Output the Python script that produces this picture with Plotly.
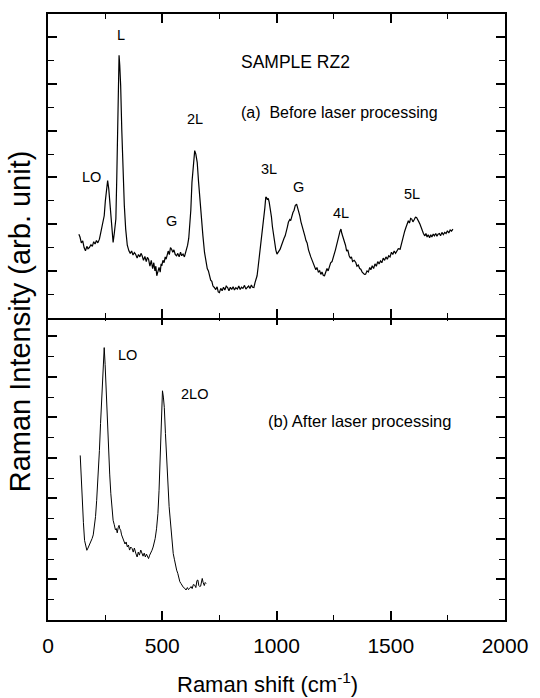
import plotly.graph_objects as go

# ---- (a) Before laser processing ----
shift_a = [135, 140, 146, 152, 158, 164, 170, 175, 181, 188, 194, 200, 206, 212, 218, 225, 230, 236, 241, 246,
           251, 256, 261, 266, 271, 276, 281, 285, 290, 294, 297, 301, 305, 308, 311, 314, 318, 323, 328, 334,
           340, 347, 354, 360, 366, 372, 378, 383, 390, 396, 402, 407, 412, 418, 424, 430, 435, 440, 446, 452,
           458, 463, 468, 472, 476, 481, 486, 491, 495, 498, 503, 508, 513, 517, 520, 526, 531, 536, 541, 546,
           551, 557, 563, 568, 574, 580, 585, 591, 597, 602, 606, 611, 616, 620, 625, 630, 636, 642, 647, 653,
           659, 665, 671, 678, 685, 691, 697, 702, 707, 712, 717, 722, 728, 734, 740, 745, 750, 756, 762, 768,
           774, 780, 786, 792, 798, 804, 810, 816, 822, 829, 835, 841, 847, 853, 860, 866, 872, 878, 884, 890,
           895, 901, 906, 911, 915, 920, 926, 931, 937, 943, 949, 953, 956, 960, 964, 968, 973, 978, 982, 987,
           992, 997, 1002, 1008, 1012, 1016, 1022, 1028, 1033, 1038, 1043, 1048, 1052, 1058, 1062, 1067, 1072, 1077, 1082, 1088,
           1093, 1097, 1102, 1107, 1112, 1118, 1124, 1129, 1134, 1140, 1145, 1150, 1156, 1161, 1167, 1172, 1177, 1183, 1189, 1194,
           1199, 1205, 1210, 1215, 1221, 1226, 1232, 1237, 1243, 1248, 1253, 1258, 1263, 1268, 1273, 1278, 1282, 1286, 1291, 1297,
           1302, 1307, 1312, 1318, 1323, 1328, 1333, 1340, 1347, 1352, 1358, 1364, 1369, 1375, 1380, 1385, 1390, 1396, 1402, 1408,
           1413, 1419, 1425, 1431, 1437, 1443, 1449, 1455, 1461, 1467, 1473, 1479, 1485, 1491, 1497, 1503, 1509, 1515, 1521, 1527,
           1533, 1541, 1547, 1552, 1556, 1561, 1566, 1572, 1577, 1582, 1587, 1592, 1597, 1603, 1608, 1613, 1618, 1623, 1628, 1633,
           1638, 1643, 1649, 1654, 1659, 1664, 1670, 1675, 1680, 1686, 1691, 1697, 1702, 1707, 1713, 1718, 1724, 1730, 1736, 1742,
           1748, 1754, 1760, 1766, 1772]
intensity_a = [3.57, 3.45, 3.2, 3.29, 3.0, 2.86, 3.05, 2.95, 3.0, 3.12, 3.05, 3.25, 3.15, 3.3, 3.2, 3.36, 3.6, 3.93, 4.1, 4.36,
               5.0, 5.5, 5.87, 5.5, 4.94, 4.2, 3.5, 3.22, 3.6, 4.0, 4.22, 6.0, 8.5, 10.5, 11.23, 10.8, 9.94, 8.0, 6.37, 4.8,
               3.79, 3.1, 2.86, 2.75, 2.85, 2.68, 2.78, 2.72, 2.55, 2.7, 2.6, 2.75, 2.65, 2.45, 2.62, 2.4, 2.58, 2.5, 2.2, 2.45,
               2.1, 2.35, 2.0, 2.2, 1.79, 2.05, 2.15, 1.95, 2.3, 2.22, 2.45, 2.35, 2.6, 2.5, 2.65, 2.85, 2.7, 3.0, 2.93, 2.8,
               2.9, 2.7, 2.65, 2.75, 2.6, 2.8, 2.65, 2.72, 2.6, 2.75, 2.93, 3.1, 3.4, 3.79, 4.6, 5.79, 6.7, 7.15, 7.0, 6.65,
               5.8, 5.0, 4.36, 3.5, 2.79, 2.4, 2.1, 2.0, 1.79, 1.6, 1.55, 1.35, 1.29, 1.2, 1.32, 1.1, 1.07, 1.25, 1.15, 1.3,
               1.18, 1.35, 1.29, 1.15, 1.3, 1.2, 1.32, 1.18, 1.28, 1.22, 1.35, 1.2, 1.3, 1.25, 1.38, 1.22, 1.29, 1.35, 1.25, 1.4,
               1.3, 1.29, 1.5, 1.65, 1.79, 2.2, 2.7, 3.1, 3.5, 4.1, 4.7, 5.15, 5.15, 5.05, 5.1, 4.94, 4.65, 4.3, 3.9, 3.5,
               3.2, 2.9, 2.72, 2.8, 2.9, 2.93, 3.1, 3.3, 3.4, 3.5, 3.8, 3.9, 4.08, 4.2, 4.15, 4.36, 4.5, 4.6, 4.8, 4.86,
               4.7, 4.55, 4.36, 4.1, 3.95, 3.7, 3.5, 3.3, 3.2, 2.9, 2.79, 2.6, 2.45, 2.3, 2.22, 2.05, 2.15, 1.95, 2.0, 1.85,
               1.95, 1.8, 1.79, 1.95, 2.1, 2.0, 2.22, 2.35, 2.4, 2.55, 2.65, 2.9, 3.1, 3.36, 3.5, 3.7, 3.79, 3.6, 3.45, 3.22,
               3.1, 2.85, 2.9, 2.65, 2.55, 2.6, 2.4, 2.45, 2.36, 2.2, 2.25, 2.1, 2.07, 1.95, 1.9, 1.85, 1.86, 2.0, 1.95, 2.15,
               2.05, 2.22, 2.1, 2.3, 2.2, 2.4, 2.3, 2.43, 2.35, 2.55, 2.45, 2.6, 2.5, 2.65, 2.6, 2.8, 2.7, 2.85, 2.75, 2.86,
               2.95, 2.93, 3.2, 3.4, 3.5, 3.7, 3.85, 4.0, 4.15, 4.05, 4.25, 4.22, 4.1, 4.2, 4.3, 4.29, 4.15, 4.1, 4.0, 3.85,
               3.75, 3.6, 3.5, 3.6, 3.45, 3.55, 3.42, 3.55, 3.45, 3.58, 3.5, 3.6, 3.48, 3.57, 3.6, 3.5, 3.65, 3.55, 3.65, 3.6,
               3.72, 3.62, 3.75, 3.7, 3.79]

# ---- (b) After laser processing ----
shift_b = [141, 145, 150, 155, 160, 165, 170, 175, 181, 186, 190, 193, 198, 203, 208, 213, 219, 225, 230, 236,
           241, 246, 250, 253, 259, 265, 270, 275, 280, 285, 290, 295, 299, 303, 307, 311, 314, 318, 322, 327,
           332, 337, 342, 347, 352, 357, 362, 368, 373, 378, 384, 390, 395, 400, 406, 412, 416, 421, 426, 431,
           436, 440, 445, 450, 455, 460, 465, 469, 475, 481, 486, 491, 496, 501, 505, 509, 514, 519, 525, 530,
           534, 540, 544, 548, 553, 558, 563, 568, 572, 577, 582, 588, 593, 599, 604, 610, 615, 620, 626, 631,
           636, 642, 647, 652, 656, 660, 664, 668, 672, 675, 679, 684, 688, 692]
intensity_b = [8.12, 7.0, 5.9, 4.8, 3.93, 3.6, 3.44, 3.55, 3.69, 3.8, 3.95, 4.02, 4.2, 4.59, 5.1, 5.9, 7.0, 8.36, 9.7, 11.15,
               12.5, 13.44, 12.6, 11.64, 10.0, 8.36, 7.2, 6.23, 5.5, 4.92, 4.7, 4.45, 4.51, 4.3, 4.55, 4.67, 4.5, 4.43, 4.2, 4.05,
               3.93, 3.75, 3.85, 3.61, 3.7, 3.45, 3.6, 3.53, 3.35, 3.55, 3.3, 3.11, 3.35, 3.2, 3.45, 3.28, 3.15, 3.3, 3.11, 3.25,
               3.1, 3.03, 3.2, 3.3, 3.44, 3.6, 3.8, 4.02, 4.5, 5.25, 6.4, 7.87, 9.8, 11.31, 11.0, 10.49, 9.2, 7.87, 6.5, 5.6,
               5.08, 4.1, 3.6, 3.28, 3.0, 2.7, 2.46, 2.3, 2.1, 1.89, 1.8, 1.65, 1.6, 1.56, 1.48, 1.6, 1.5, 1.56, 1.65, 1.55,
               1.75, 1.72, 1.6, 1.95, 1.97, 1.7, 1.65, 1.67, 1.9, 2.05, 1.85, 1.7, 1.85, 1.8]

# ---- peak labels ----
labels_a = ["LO", "L", "G", "2L", "3L", "G", "4L", "5L"]
label_x_a = [189, 318, 541, 642, 966, 1095, 1282, 1592]
label_y_a = [6.0, 12.1, 4.15, 8.5, 6.37, 5.58, 4.5, 5.3]
labels_b = ["LO", "2LO"]
label_x_b = [347, 642]
label_y_b = [13.1, 11.15]

x_ticks = [0, 500, 1000, 1500, 2000]
x_ticktext = ["0", "500", "1000", "1500", "2000"]

FONT = "Liberation Sans, Arial, sans-serif"
LW = 1.6
split = 305 / 608
overlap = LW / 608

fig = go.Figure()
fig.add_trace(go.Scatter(x=shift_a, y=intensity_a, mode="lines", xaxis="x2", yaxis="y2",
                         line=dict(color="black", width=1.2), showlegend=False))
fig.add_trace(go.Scatter(x=shift_b, y=intensity_b, mode="lines", xaxis="x", yaxis="y",
                         line=dict(color="black", width=1.0), showlegend=False))

axis_common = dict(showline=True, linecolor="black", linewidth=LW, mirror="allticks",
                   ticks="inside", tickcolor="black", tickwidth=1.5, showgrid=False, zeroline=False)

fig.update_layout(
    width=540, height=698,
    margin=dict(l=48, r=30, t=12, b=78),
    paper_bgcolor="white", plot_bgcolor="white",
    font=dict(family=FONT, color="black"),
    xaxis=dict(domain=[0, 1], anchor="y", range=[0, 2000], tickvals=x_ticks, ticktext=x_ticktext,
               ticklen=9, tickfont=dict(size=21), ticklabelstandoff=6,
               minor=dict(dtick=250, ticklen=5, ticks="inside", tickcolor="black", tickwidth=1.2),
               **axis_common),
    yaxis=dict(domain=[0, split], anchor="x", range=[0, 15], dtick=2, tick0=0, ticklen=9,
               showticklabels=False,
               minor=dict(dtick=1, ticklen=6, ticks="inside", tickcolor="black", tickwidth=1.2),
               **axis_common),
    xaxis2=dict(domain=[0, 1], anchor="y2", range=[0, 2000], tickvals=x_ticks, ticklen=9,
                showticklabels=False, matches="x",
                minor=dict(dtick=250, ticklen=5, ticks="inside", tickcolor="black", tickwidth=1.2),
                **axis_common),
    yaxis2=dict(domain=[split - overlap, 1], anchor="x2", range=[0, 13], dtick=2, tick0=0, ticklen=9,
                showticklabels=False,
                minor=dict(dtick=1, ticklen=6, ticks="inside", tickcolor="black", tickwidth=1.2),
                **axis_common),
)

for t, x, y in zip(labels_a, label_x_a, label_y_a):
    fig.add_annotation(x=x, y=y, xref="x2", yref="y2", text=t, showarrow=False,
                       font=dict(size=14.5, family=FONT))
for t, x, y in zip(labels_b, label_x_b, label_y_b):
    fig.add_annotation(x=x, y=y, xref="x", yref="y", text=t, showarrow=False,
                       font=dict(size=14.5, family=FONT))

fig.add_annotation(x=1084, y=10.94, xref="x2", yref="y2", text="SAMPLE RZ2", showarrow=False,
                   font=dict(size=17.5, family=FONT))
fig.add_annotation(x=1275, y=8.8, xref="x2", yref="y2", text="(a)  Before laser processing", showarrow=False,
                   font=dict(size=16, family=FONT))
fig.add_annotation(x=1364, y=9.84, xref="x", yref="y", text="(b) After laser processing", showarrow=False,
                   font=dict(size=16.5, family=FONT))

fig.add_annotation(x=(270 - 48) / 462, y=(620 - 683) / 608, xref="paper", yref="paper",
                   text="Raman shift (cm<sup>-1</sup>)", showarrow=False,
                   font=dict(size=22, family=FONT), xanchor="center", yanchor="middle")
fig.add_annotation(x=(20 - 48) / 462, y=(620 - 320) / 608, xref="paper", yref="paper",
                   text="Raman Intensity (arb. unit)", showarrow=False, textangle=-90,
                   font=dict(size=29, family=FONT), xanchor="center", yanchor="middle")

fig.write_html("out.html", config={"displayModeBar": False},
               post_script="document.body.style.margin='0';document.body.style.overflow='hidden';")
